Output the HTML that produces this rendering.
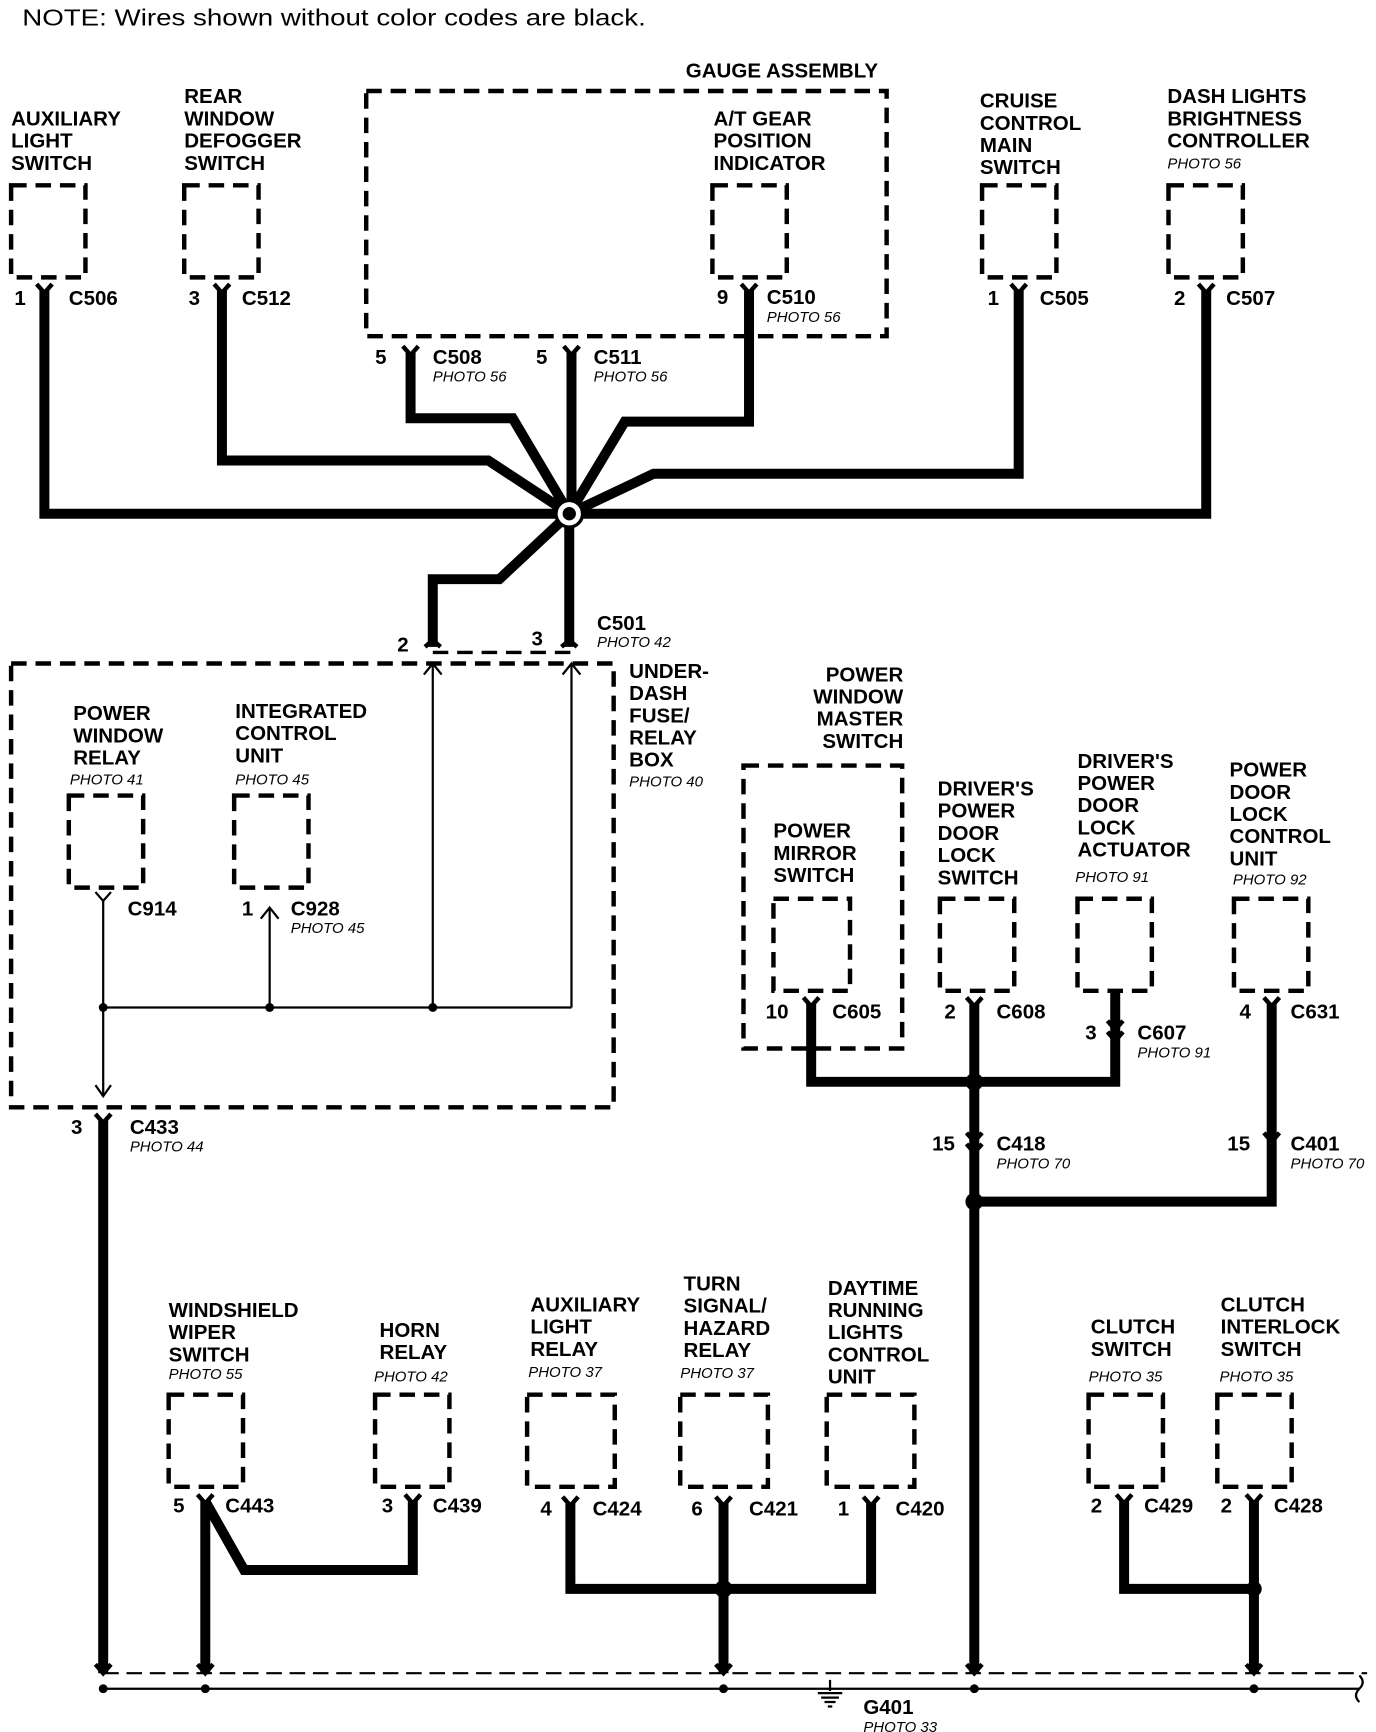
<!DOCTYPE html>
<html><head><meta charset="utf-8"><style>
html,body{margin:0;padding:0;background:#fff}
svg{display:block}
text{font-family:"Liberation Sans",Arial,sans-serif;fill:#000}
.b{font-weight:bold;font-size:18.5px}
.p{font-style:italic;font-size:13.5px}
.n{font-size:21px}
.box{fill:none;stroke:#000;stroke-width:4;stroke-dasharray:14 8}
.w{fill:none;stroke:#000;stroke-width:9;stroke-linejoin:miter}
.t{fill:none;stroke:#000;stroke-width:2}
.y{fill:none;stroke:#000;stroke-width:4}
</style></head><body>
<svg width="1376" height="1732" viewBox="0 0 1240 1561" preserveAspectRatio="none" xmlns="http://www.w3.org/2000/svg">
<text x="20" y="23" class="n" textLength="562" lengthAdjust="spacingAndGlyphs">NOTE: Wires shown without color codes are black.</text>

<g class="b">
<text x="10" y="113">AUXILIARY</text><text x="10" y="133">LIGHT</text><text x="10" y="153">SWITCH</text>
<text x="166" y="93">REAR</text><text x="166" y="113">WINDOW</text><text x="166" y="133">DEFOGGER</text><text x="166" y="153">SWITCH</text>
<text x="618" y="70">GAUGE ASSEMBLY</text>
<text x="643" y="113">A/T GEAR</text><text x="643" y="133">POSITION</text><text x="643" y="153">INDICATOR</text>
<text x="883" y="97">CRUISE</text><text x="883" y="117">CONTROL</text><text x="883" y="137">MAIN</text><text x="883" y="157">SWITCH</text>
<text x="1052" y="93">DASH LIGHTS</text><text x="1052" y="113">BRIGHTNESS</text><text x="1052" y="133">CONTROLLER</text>
</g>
<text x="1052" y="152" class="p">PHOTO 56</text>

<rect class="box" x="10" y="167" width="67" height="83"/>
<rect class="box" x="166" y="167" width="67" height="83"/>
<rect class="box" x="330" y="82" width="469" height="221"/>
<rect class="box" x="642" y="167" width="67" height="83"/>
<rect class="box" x="885" y="167" width="67" height="83"/>
<rect class="box" x="1053" y="167" width="67" height="83"/>

<path class="w" d="M40 262 V463 H1087 V262"/>
<path class="w" d="M200 262 V415 H440 L513 463"/>
<path class="w" d="M370 318 V377 H462 L513 463"/>
<path class="w" d="M515 318 V463"/>
<path class="w" d="M675 262 V380 H563 L513 463"/>
<path class="w" d="M918 262 V427 H589 L513 463"/>
<path class="w" d="M513 463 V583"/>
<path class="w" d="M513 463 L450 522 H390 V583"/>
<g class="y">
<path d="M33 256 L40 264 L47 256"/><path d="M193 256 L200 264 L207 256"/>
<path d="M363 312 L370 320 L377 312"/><path d="M508 312 L515 320 L522 312"/>
<path d="M668 256 L675 264 L682 256"/><path d="M911 256 L918 264 L925 256"/>
<path d="M1080 256 L1087 264 L1094 256"/>
<path d="M383 583 L390 577 L397 583"/><path d="M506 583 L513 577 L520 583"/>
</g>
<circle cx="513" cy="463" r="12" fill="#fff" stroke="#000" stroke-width="3"/>
<circle cx="513" cy="463" r="6" fill="#000"/>

<g class="b">
<text x="13" y="275">1</text><text x="62" y="275">C506</text>
<text x="170" y="275">3</text><text x="218" y="275">C512</text>
<text x="646" y="274">9</text><text x="691" y="274">C510</text>
<text x="338" y="328">5</text><text x="390" y="328">C508</text>
<text x="483" y="328">5</text><text x="535" y="328">C511</text>
<text x="890" y="275">1</text><text x="937" y="275">C505</text>
<text x="1058" y="275">2</text><text x="1105" y="275">C507</text>
<text x="538" y="568">C501</text>
<text x="358" y="587">2</text><text x="479" y="582">3</text>
</g>
<text x="691" y="290" class="p">PHOTO 56</text>
<text x="390" y="344" class="p">PHOTO 56</text>
<text x="535" y="344" class="p">PHOTO 56</text>
<text x="538" y="583" class="p">PHOTO 42</text>

<rect class="box" x="10" y="598" width="543" height="400"/>
<path d="M390 588 H515" stroke="#000" stroke-width="3" stroke-dasharray="14 8"/>
<path class="t" d="M390 598 V908 M515 598 V908 M93 908 H515 M93 812 V988 M243 818 V908"/>
<g class="t" stroke-width="2">
<path d="M382 608 L390 598 L398 608"/><path d="M507 608 L515 598 L523 608"/>
<path d="M235 828 L243 818 L251 828"/><path d="M86 978 L93 988 L100 978"/>
<path d="M86 804 L93 812 L100 804"/>
</g>
<circle cx="93" cy="908" r="4"/><circle cx="243" cy="908" r="4"/><circle cx="390" cy="908" r="4"/>
<rect class="box" x="62" y="717" width="67" height="83"/>
<rect class="box" x="211" y="717" width="67" height="83"/>
<g class="b">
<text x="66" y="649">POWER</text><text x="66" y="669">WINDOW</text><text x="66" y="689">RELAY</text>
<text x="212" y="647">INTEGRATED</text><text x="212" y="667">CONTROL</text><text x="212" y="687">UNIT</text>
<text x="567" y="611">UNDER-</text><text x="567" y="631">DASH</text><text x="567" y="651">FUSE/</text><text x="567" y="671">RELAY</text><text x="567" y="691">BOX</text>
<text x="115" y="825">C914</text><text x="218" y="825">1</text><text x="262" y="825">C928</text>
<text x="64" y="1022">3</text><text x="117" y="1022">C433</text>
</g>
<text x="63" y="707" class="p">PHOTO 41</text>
<text x="212" y="707" class="p">PHOTO 45</text>
<text x="567" y="709" class="p">PHOTO 40</text>
<text x="262" y="841" class="p">PHOTO 45</text>
<text x="117" y="1038" class="p">PHOTO 44</text>
<path class="w" d="M93 1010 V1508"/>
<path class="y" d="M86 1004 L93 1012 L100 1004"/>

<g class="b">
<text x="814" y="614" text-anchor="end">POWER</text><text x="814" y="634" text-anchor="end">WINDOW</text><text x="814" y="654" text-anchor="end">MASTER</text><text x="814" y="674" text-anchor="end">SWITCH</text>
<text x="697" y="755">POWER</text><text x="697" y="775">MIRROR</text><text x="697" y="795">SWITCH</text>
<text x="845" y="717">DRIVER'S</text><text x="845" y="737">POWER</text><text x="845" y="757">DOOR</text><text x="845" y="777">LOCK</text><text x="845" y="797">SWITCH</text>
<text x="971" y="692">DRIVER'S</text><text x="971" y="712">POWER</text><text x="971" y="732">DOOR</text><text x="971" y="752">LOCK</text><text x="971" y="772">ACTUATOR</text>
<text x="1108" y="700">POWER</text><text x="1108" y="720">DOOR</text><text x="1108" y="740">LOCK</text><text x="1108" y="760">CONTROL</text><text x="1108" y="780">UNIT</text>
<text x="690" y="918">10</text><text x="750" y="918">C605</text>
<text x="851" y="918">2</text><text x="898" y="918">C608</text>
<text x="978" y="937">3</text><text x="1025" y="937">C607</text>
<text x="1117" y="918">4</text><text x="1163" y="918">C631</text>
<text x="840" y="1037">15</text><text x="898" y="1037">C418</text>
<text x="1106" y="1037">15</text><text x="1163" y="1037">C401</text>
</g>
<text x="969" y="795" class="p">PHOTO 91</text>
<text x="1111" y="797" class="p">PHOTO 92</text>
<text x="1025" y="953" class="p">PHOTO 91</text>
<text x="898" y="1053" class="p">PHOTO 70</text>
<text x="1163" y="1053" class="p">PHOTO 70</text>
<rect class="box" x="670" y="690" width="143" height="255"/>
<rect class="box" x="697" y="810" width="69" height="83"/>
<rect class="box" x="847" y="810" width="67" height="83"/>
<rect class="box" x="971" y="810" width="67" height="83"/>
<rect class="box" x="1112" y="810" width="67" height="83"/>
<path class="w" d="M731 905 V975 H1005 V893"/>
<path class="w" d="M878 905 V1508"/>
<path class="w" d="M1146 905 V1083 H878"/>
<g class="y">
<path d="M724 899 L731 907 L738 899"/><path d="M871 899 L878 907 L885 899"/>
<path d="M1139 899 L1146 907 L1153 899"/>
<path d="M998 920 L1005 928 L1012 920"/><path d="M998 930 L1005 938 L1012 930"/>
<path d="M871 1021 L878 1029 L885 1021"/><path d="M871 1031 L878 1039 L885 1031"/>
<path d="M1139 1021 L1146 1029 L1153 1021"/>
</g>
<circle cx="878" cy="975" r="8"/><circle cx="878" cy="1083" r="8"/>

<g class="b">
<text x="152" y="1187">WINDSHIELD</text><text x="152" y="1207">WIPER</text><text x="152" y="1227">SWITCH</text>
<text x="342" y="1205">HORN</text><text x="342" y="1225">RELAY</text>
<text x="478" y="1182">AUXILIARY</text><text x="478" y="1202">LIGHT</text><text x="478" y="1222">RELAY</text>
<text x="616" y="1163">TURN</text><text x="616" y="1183">SIGNAL/</text><text x="616" y="1203">HAZARD</text><text x="616" y="1223">RELAY</text>
<text x="746" y="1167">DAYTIME</text><text x="746" y="1187">RUNNING</text><text x="746" y="1207">LIGHTS</text><text x="746" y="1227">CONTROL</text><text x="746" y="1247">UNIT</text>
<text x="983" y="1202">CLUTCH</text><text x="983" y="1222">SWITCH</text>
<text x="1100" y="1182">CLUTCH</text><text x="1100" y="1202">INTERLOCK</text><text x="1100" y="1222">SWITCH</text>
<text x="156" y="1363">5</text><text x="203" y="1363">C443</text>
<text x="344" y="1363">3</text><text x="390" y="1363">C439</text>
<text x="487" y="1366">4</text><text x="534" y="1366">C424</text>
<text x="623" y="1366">6</text><text x="675" y="1366">C421</text>
<text x="755" y="1366">1</text><text x="807" y="1366">C420</text>
<text x="983" y="1363">2</text><text x="1031" y="1363">C429</text>
<text x="1100" y="1363">2</text><text x="1148" y="1363">C428</text>
<text x="778" y="1545">G401</text>
</g>
<text x="152" y="1243" class="p">PHOTO 55</text>
<text x="337" y="1245" class="p">PHOTO 42</text>
<text x="476" y="1241" class="p">PHOTO 37</text>
<text x="613" y="1242" class="p">PHOTO 37</text>
<text x="981" y="1245" class="p">PHOTO 35</text>
<text x="1099" y="1245" class="p">PHOTO 35</text>
<text x="778" y="1561" class="p">PHOTO 33</text>
<rect class="box" x="152" y="1257" width="67" height="83"/>
<rect class="box" x="338" y="1257" width="67" height="83"/>
<rect class="box" x="475" y="1257" width="79" height="83"/>
<rect class="box" x="613" y="1257" width="79" height="83"/>
<rect class="box" x="745" y="1257" width="79" height="83"/>
<rect class="box" x="981" y="1257" width="67" height="83"/>
<rect class="box" x="1097" y="1257" width="67" height="83"/>
<path class="w" d="M185 1353 V1508"/>
<path class="w" d="M185 1353 L220 1415 H372 V1353"/>
<path class="w" d="M514 1355 V1432 H785 V1355"/>
<path class="w" d="M652 1355 V1508"/>
<path class="w" d="M1013 1353 V1432 H1130"/>
<path class="w" d="M1130 1353 V1508"/>
<g class="y">
<path d="M178 1347 L185 1355 L192 1347"/><path d="M365 1347 L372 1355 L379 1347"/>
<path d="M507 1349 L514 1357 L521 1349"/><path d="M645 1349 L652 1357 L659 1349"/>
<path d="M778 1349 L785 1357 L792 1349"/><path d="M1006 1347 L1013 1355 L1020 1347"/>
<path d="M1123 1347 L1130 1355 L1137 1347"/>
<path d="M86 1500 L93 1508 L100 1500"/><path d="M178 1500 L185 1508 L192 1500"/>
<path d="M645 1500 L652 1508 L659 1500"/><path d="M871 1500 L878 1508 L885 1500"/>
<path d="M1123 1500 L1130 1508 L1137 1500"/>
</g>
<circle cx="652" cy="1432" r="8"/><circle cx="1130" cy="1432" r="7"/>
<path d="M93 1508 H1232" stroke="#000" stroke-width="2" stroke-dasharray="14 7"/>
<path d="M93 1522 H1225" stroke="#000" stroke-width="2"/>
<path d="M1225 1510 q6 6 0 12 q-6 6 0 12" fill="none" stroke="#000" stroke-width="2"/>
<circle cx="93" cy="1522" r="4"/><circle cx="185" cy="1522" r="4"/><circle cx="652" cy="1522" r="4"/>
<circle cx="878" cy="1522" r="4"/><circle cx="1130" cy="1522" r="4"/>
<path d="M748 1514 V1524 M737 1526 H759 M740 1530 H756 M743 1534 H753 M746 1538 H750" stroke="#000" stroke-width="2"/>
</svg>
</body></html>
